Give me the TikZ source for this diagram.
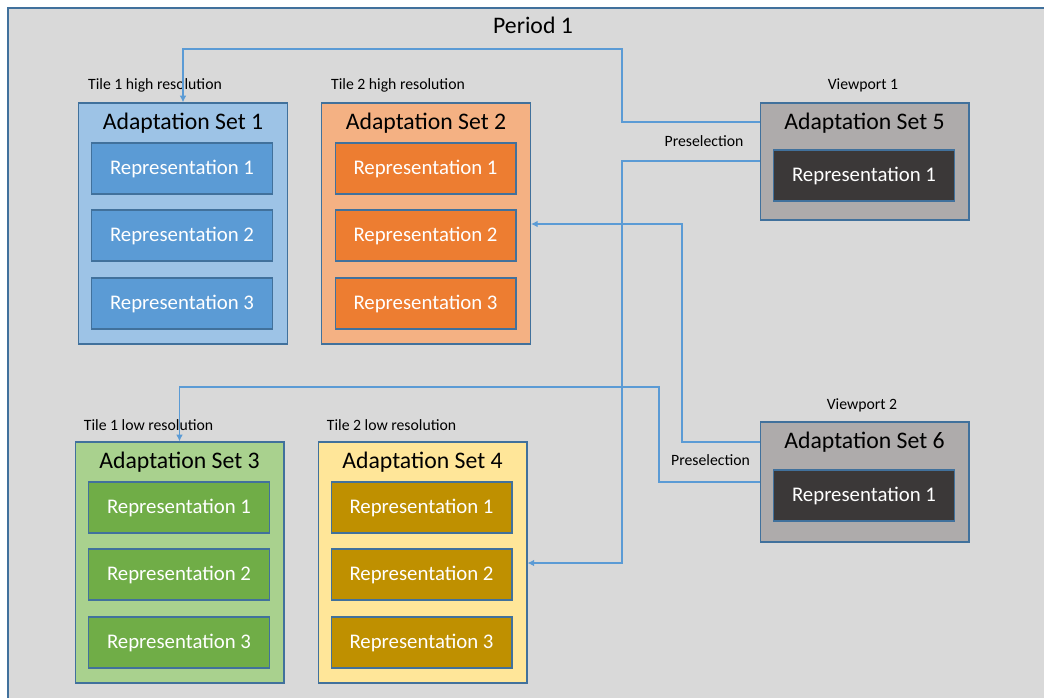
\documentclass[tikz,border=0pt]{standalone}
\usepackage{fontspec}
\setmainfont{Carlito}
\usetikzlibrary{positioning}
\usetikzlibrary{arrows.meta}
\definecolor{panelgray}{HTML}{D9D9D9}
\definecolor{outline}{HTML}{41719C}
\definecolor{linkblue}{HTML}{5B9BD5}
\definecolor{blueset}{HTML}{9DC3E6}
\definecolor{bluerep}{HTML}{5B9BD5}
\definecolor{orangeset}{HTML}{F4B183}
\definecolor{orangerep}{HTML}{ED7D31}
\definecolor{greenset}{HTML}{A9D18E}
\definecolor{greenrep}{HTML}{70AD47}
\definecolor{goldset}{HTML}{FFE699}
\definecolor{goldrep}{HTML}{BF9000}
\definecolor{grayset}{HTML}{AEABAB}
\definecolor{grayrep}{HTML}{3B3838}
\newcommand{\titlefont}{\fontsize{17.8}{20}\selectfont}
\newcommand{\repfont}{\fontsize{15.6}{18}\selectfont}
\newcommand{\capfont}{\fontsize{11.8}{14}\selectfont}
\tikzset{
    panel/.style = {draw=outline, line width=1pt, fill=panelgray},
    setbox/.style = {rectangle, draw=outline, line width=1pt, inner sep=0pt, minimum width=156.5pt, minimum height=180.75pt},
    repbox/.style = {rectangle, draw=outline, line width=1pt, inner sep=0pt, minimum width=135.5pt, minimum height=38.25pt, text=white, font=\repfont},
    settitle/.style = {inner sep=0pt, font=\titlefont},
    caption/.style = {inner sep=0pt, font=\capfont},
    link/.style = {line width=0.8pt, draw=linkblue, -{Latex[length=5pt,width=5pt]}},
}

\begin{document}
\begin{tikzpicture}[x=0.75pt,y=-0.75pt]
\useasboundingbox (0,0) rectangle (1044,698);
\clip (0,0) rectangle (1044,698);
\fill[white] (0,0) rectangle (1044,698);
\draw[panel] (8,8) rectangle (1060,720);
\node[settitle] at (533,25) (period) {Period 1};
%
\node[setbox, fill=blueset] at (183,223.5) (as1) {};
\node[setbox, fill=orangeset] at (426,223.5) (as2) {};
\node[setbox, fill=greenset] at (179.5,562.5) (as3) {};
\node[setbox, fill=goldset] at (422.5,562.5) (as4) {};
\node[setbox, fill=grayset, minimum height=87.75pt] at (864.5,161.5) (as5) {};
\node[setbox, fill=grayset, minimum height=90pt] at (864.5,482) (as6) {};
%
\node[settitle] at (183,123) {Adaptation Set 1};
\node[settitle] at (426,123) {Adaptation Set 2};
\node[settitle] at (179.5,462) {Adaptation Set 3};
\node[settitle] at (422.5,462) {Adaptation Set 4};
\node[settitle] at (864.5,123) {Adaptation Set 5};
\node[settitle] at (864.5,442) {Adaptation Set 6};
%
\foreach \i/\y in {1/168.5,2/235.5,3/303.5} {
  \node[repbox, fill=bluerep] at (182,\y) (as1r\i) {Representation \i};
  \node[repbox, fill=orangerep] at (425.5,\y) (as2r\i) {Representation \i};
}
\foreach \i/\y in {1/507.5,2/574.5,3/642.5} {
  \node[repbox, fill=greenrep] at (179,\y) (as3r\i) {Representation \i};
  \node[repbox, fill=goldrep] at (421.5,\y) (as4r\i) {Representation \i};
}
\node[repbox, fill=grayrep] at (864,175.5) (as5r1) {Representation 1};
\node[repbox, fill=grayrep] at (864,495.5) (as6r1) {Representation 1};
%
\node[caption] at (155,85) {Tile 1 high resolution};
\node[caption] at (398,85) {Tile 2 high resolution};
\node[caption] at (148.5,425) {Tile 1 low resolution};
\node[caption] at (391.5,425) {Tile 2 low resolution};
\node[caption] at (863,85) {Viewport 1};
\node[caption] at (862,405.5) {Viewport 2};
\node[caption] at (704,141) {Preselection};
\node[caption] at (710.5,460) {Preselection};
%
\draw[link] (as5.west |- 0,122) -| (622,49) -| (as1.north);
\draw[link] (as5.west |- 0,161) -| (622,563) -- (as4.east |- 0,563);
\draw[link] (as6.west |- 0,442) -| (682,224) -- (as2.east |- 0,224);
\draw[link] (as6.west |- 0,482) -| (659,387) -| (as3.north);

\end{tikzpicture}
\end{document}
